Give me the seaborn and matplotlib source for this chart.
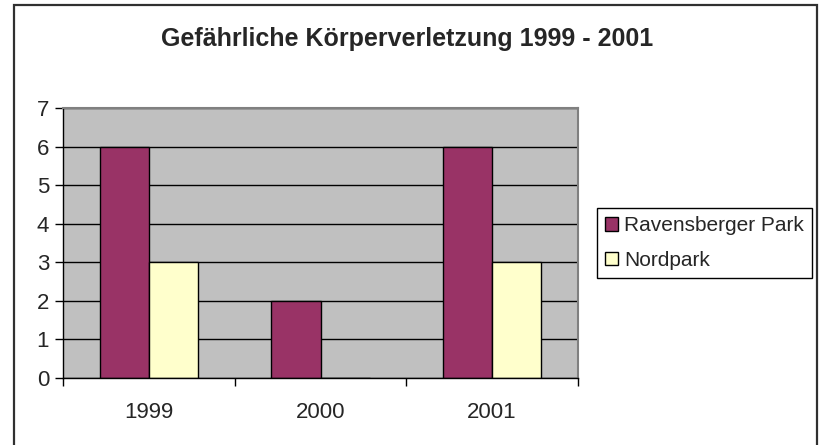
import numpy as np
import pandas as pd
import matplotlib
matplotlib.use('Agg')
import matplotlib.pyplot as plt
from matplotlib.patches import Rectangle
import seaborn as sns

# Data
years = ['1999', '2000', '2001']
ravensberger = [6, 2, 6]
nordpark = [3, 0, 3]
series_names = ['Ravensberger Park', 'Nordpark']
colors = ['#993366', '#FFFFCC']

df = pd.DataFrame({
    'Jahr': years * 2,
    'Anzahl': ravensberger + nordpark,
    'Park': [series_names[0]] * 3 + [series_names[1]] * 3,
})

sns.set_style('white')
plt.rcParams['font.family'] = ['Liberation Sans', 'DejaVu Sans']

fig = plt.figure(figsize=(8.19, 4.45), dpi=100)
ax = fig.add_axes([63 / 819, 1 - 378 / 445, (578 - 63) / 819, (378 - 108) / 445])
ax.set_facecolor('#C0C0C0')
ax.set_axisbelow(True)

sns.barplot(data=df, x='Jahr', y='Anzahl', hue='Park', palette=colors,
            saturation=1, width=2 / 3.5, gap=0, edgecolor='black', linewidth=1,
            errorbar=None, ax=ax)

# axes styling
ax.set_ylim(0, 7)
ax.set_xlim(-0.5, 2.5)
ax.set_yticks(range(8))
ax.yaxis.grid(True, color='black', linewidth=1)
ax.set_xlabel('')
ax.set_ylabel('')
ax.tick_params(axis='y', direction='out', length=6, width=1, color='black',
               labelsize=16, pad=4, left=True)
ax.tick_params(axis='x', which='major', length=0, labelsize=16, pad=17)
ax.set_xticks([-0.5, 0.5, 1.5, 2.5], minor=True)
ax.tick_params(axis='x', which='minor', direction='out', length=6, width=1,
               color='black', bottom=True)
for side in ['left', 'bottom']:
    ax.spines[side].set_color('black')
    ax.spines[side].set_linewidth(1)
for side in ['top', 'right']:
    ax.spines[side].set_color('#808080')
    ax.spines[side].set_linewidth(1.5)

# legend
handles, labels = ax.get_legend_handles_labels()
ax.legend(handles, labels, loc='upper left',
          bbox_to_anchor=(597 / 819, 1 - 208 / 445), bbox_transform=fig.transFigure,
          frameon=True, fancybox=False, edgecolor='black', framealpha=1,
          fontsize=15, handlelength=0.6, handleheight=0.6, handletextpad=0.3,
          borderpad=0.4, labelspacing=0.75, borderaxespad=0)
ax.get_legend().get_frame().set_linewidth(1)

# title
fig.text(407 / 819, 1 - 39 / 445, 'Gefährliche Körperverletzung 1999 - 2001',
         ha='center', va='center', fontsize=18, fontweight='bold')

# outer chart border
fig.patches.append(Rectangle((14 / 819, -0.05), (817 - 14) / 819, 1 - 5 / 445 + 0.05,
                             transform=fig.transFigure, fill=False,
                             edgecolor='#303030', linewidth=1.6))

fig.savefig('out.png', dpi=100)
